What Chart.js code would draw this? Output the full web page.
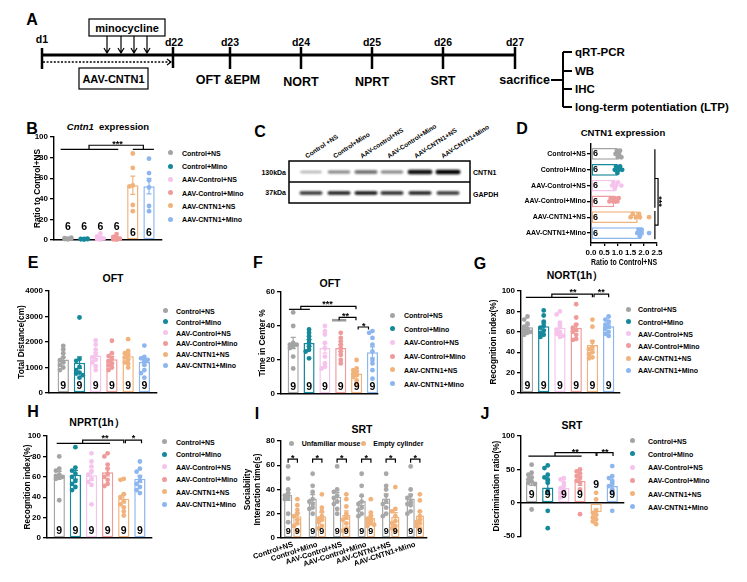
<!DOCTYPE html>
<html>
<head>
<meta charset="utf-8">
<script src="https://cdn.jsdelivr.net/npm/chart.js@4.4.1/dist/chart.umd.min.js"></script>
<style>
  body { margin: 0; width: 747px; height: 582px; background: #fff; position: relative; overflow: hidden;
         font-family: "Liberation Sans", Arial, sans-serif; font-weight: bold; color: #000; }
  .t { position: absolute; white-space: nowrap; line-height: 1; }
  .dot { position: absolute; width: 5px; height: 5px; border-radius: 50%; }
  canvas { position: absolute; }
  svg { position: absolute; left: 0; top: 0; }
</style>
</head>
<body>
<svg width="747" height="582" font-family="Liberation Sans, Arial, sans-serif" font-weight="bold">
  <defs>
    <filter id="bl" x="-30%" y="-150%" width="160%" height="400%"><feGaussianBlur stdDeviation="0.9"/></filter>
  </defs>
  <!-- A: timeline -->
  <line x1="42" y1="55" x2="515" y2="55" stroke="#000" stroke-width="3"/>
  <g stroke="#000" stroke-width="2.5">
    <line x1="42" y1="48" x2="42" y2="69"/>
    <line x1="173" y1="47" x2="173" y2="68"/>
    <line x1="230" y1="47" x2="230" y2="69"/>
    <line x1="301" y1="47" x2="301" y2="69"/>
    <line x1="372" y1="47" x2="372" y2="69"/>
    <line x1="443" y1="47" x2="443" y2="69"/>
    <line x1="515" y1="47" x2="515" y2="69"/>
  </g>
  <g font-size="10.5" text-anchor="middle" dominant-baseline="central">
    <text x="42" y="39">d1</text>
    <text x="174" y="42">d22</text>
    <text x="230" y="42">d23</text>
    <text x="301" y="42">d24</text>
    <text x="372" y="42">d25</text>
    <text x="443" y="42">d26</text>
    <text x="515" y="42">d27</text>
  </g>
  <rect x="89" y="19" width="76" height="17" fill="#fff" stroke="#000" stroke-width="1.2"/>
  <text x="127" y="27.5" font-size="11" text-anchor="middle" dominant-baseline="central">minocycline</text>
  <g stroke="#000" stroke-width="1.2" fill="none">
    <path d="M107 36V53M104 48L107 53L110 48"/>
    <path d="M121 36V53M118 48L121 53L124 48"/>
    <path d="M134 36V53M131 48L134 53L137 48"/>
    <path d="M147 36V53M144 48L147 53L150 48"/>
    <line x1="43" y1="62" x2="171" y2="62" stroke-dasharray="2,1.6" stroke-width="1.4"/>
    <path d="M167 59L171 62L167 65"/>
  </g>
  <rect x="79" y="68" width="69" height="21" fill="#fff" stroke="#000" stroke-width="1.2"/>
  <text x="113.5" y="78.5" font-size="11" text-anchor="middle" dominant-baseline="central">AAV-CNTN1</text>
  <g font-size="12.5" text-anchor="middle" dominant-baseline="central">
    <text x="228" y="80">OFT &amp;EPM</text>
    <text x="301" y="82">NORT</text>
    <text x="372" y="82">NPRT</text>
    <text x="443" y="81">SRT</text>
    <text x="550" y="80" text-anchor="end">sacrifice</text>
  </g>
  <g stroke="#000" stroke-width="2" fill="none">
    <line x1="551" y1="80" x2="563" y2="80"/>
    <line x1="563" y1="52" x2="563" y2="107"/>
    <line x1="563" y1="52" x2="572" y2="52"/>
    <line x1="563" y1="71" x2="572" y2="71"/>
    <line x1="563" y1="89" x2="572" y2="89"/>
    <line x1="563" y1="107" x2="572" y2="107"/>
  </g>
  <g font-size="11.5" dominant-baseline="central">
    <text x="575" y="52">qRT-PCR</text>
    <text x="575" y="71">WB</text>
    <text x="575" y="89">IHC</text>
    <text x="575" y="107">long-term potentiation (LTP)</text>
  </g>
  <!-- C: blot frame -->
  <g id="blot"></g>
  <rect x="289" y="161" width="181" height="42" fill="none" stroke="#000" stroke-width="1.5"/>
  <line x1="289" y1="182" x2="470" y2="182" stroke="#000" stroke-width="1.5"/>
  <g font-size="7" dominant-baseline="central">
    <text x="286" y="172" text-anchor="end">130kDa</text>
    <text x="286" y="192" text-anchor="end">37kDa</text>
    <text x="473" y="172">CNTN1</text>
    <text x="473" y="194">GAPDH</text>
  </g>
</svg>
<script>
// ---- data ----
var groups = ["Control+NS", "Control+Mino", "AAV-Control+NS", "AAV-Control+Mino", "AAV-CNTN1+NS", "AAV-CNTN1+Mino"];
var blotLanes = ["Control +NS", "Control+Mino", "AAV-control+NS", "AAV-Control+Mino", "AAV-CNTN1+NS", "AAV-CNTN1+Mino"];
var cntn1Band = [0.3, 0.5, 0.6, 0.5, 0.95, 1.0];
var gapdhBand = [0.8, 0.9, 0.95, 0.85, 0.9, 0.8];

// B  Cntn1 mRNA
var bTicks = [0, 20, 40, 60, 80, 100];
var bMean = [1.3, 0.9, 2.5, 2.1, 53.2, 52.3];
var bSem  = [0.3, 0.2, 1.0, 0.9, 8.9, 7.6];
var bPts = [
  [0.6, 0.9, 1.1, 1.4, 1.8, 2.2],
  [0.5, 0.7, 0.8, 1.0, 1.1, 1.3],
  [0.4, 0.9, 1.5, 2.4, 3.5, 6.3],
  [0.3, 0.6, 1.2, 1.8, 3.0, 5.8],
  [84, 70, 53, 52, 34, 28],
  [79, 65, 58, 51, 33, 28]
];
var bN = [6, 6, 6, 6, 6, 6];

// D  CNTN1 protein
var dTicks = [0, 0.5, 1, 1.5, 2, 2.5];
var dMean = [1.0, 1.0, 0.92, 0.88, 1.77, 1.9];
var dSem  = [0.04, 0.05, 0.05, 0.05, 0.1, 0.07];
var dPts = [
  [0.93, 0.98, 1.02, 1.06, 1.1, 1.15],
  [0.9, 0.95, 1.0, 1.05, 1.1, 1.18],
  [0.8, 0.85, 0.9, 0.95, 1.02, 1.15],
  [0.7, 0.75, 0.85, 0.9, 1.0, 1.05],
  [1.5, 1.58, 1.7, 1.82, 1.85, 2.2],
  [1.75, 1.8, 1.85, 1.9, 1.92, 2.2]
];
var dN = [6, 6, 6, 6, 6, 6];

// E  OFT total distance
var eTicks = [0, 1000, 2000, 3000, 4000];
var eMean = [1310, 1190, 1470, 1320, 1440, 1220];
var eSem  = [95, 225, 120, 115, 115, 130];
var ePts = [
  [1850, 1720, 1560, 1400, 1290, 1200, 1100, 1000, 900],
  [2960, 1330, 1260, 1020, 900, 800, 760, 700, 600],
  [2060, 1900, 1700, 1500, 1400, 1300, 1200, 1050, 900],
  [2050, 1560, 1450, 1340, 1250, 1150, 1080, 1000, 900],
  [2110, 1650, 1560, 1480, 1400, 1300, 1200, 1150, 1000],
  [1860, 1420, 1360, 1300, 1250, 1100, 900, 780, 600]
];

// F  OFT time in center
var fTicks = [0, 20, 40, 60];
var fMean = [30, 30, 27, 27, 12, 24.5];
var fSem  = [3.3, 1.9, 3.0, 2.0, 1.4, 3.2];
var fPts = [
  [48, 40, 30, 29, 29, 28, 27, 22, 15],
  [38, 36, 34, 32, 30, 28, 26, 25, 21],
  [40, 37, 35, 30, 27, 22, 18, 16, 15],
  [36, 33, 31, 29, 27, 25, 23, 20, 18],
  [20, 15, 14, 13, 12, 11, 10, 8, 6],
  [37, 36, 33, 29, 25, 20, 18, 14, 9]
];

// G  NORT(1h)
var gTicks = [0, 20, 40, 60, 80, 100];
var gMean = [64.5, 65.5, 64, 64, 47, 65.5];
var gSem  = [2.0, 3.0, 3.0, 3.6, 4.6, 2.2];
var gPts = [
  [75, 72, 68, 65, 63, 61, 60, 59, 57],
  [81, 76, 70, 66, 64, 61, 59, 57, 55],
  [80, 77, 69, 65, 62, 59, 58, 56, 55],
  [87, 74, 67, 64, 62, 60, 57, 53, 52],
  [72, 65, 50, 45, 43, 40, 38, 35, 34],
  [75, 72, 70, 67, 65, 63, 60, 58, 56]
];

// H  NPRT(1h)
var hTicks = [0, 20, 40, 60, 80, 100];
var hMean = [61.5, 62, 61.5, 64.5, 38.5, 58];
var hSem  = [3.9, 4.3, 5.0, 3.7, 4.2, 3.5];
var hPts = [
  [80, 68, 66, 62, 61, 60, 59, 58, 37],
  [89, 69, 66, 63, 60, 56, 53, 50, 47],
  [83, 75, 70, 65, 62, 58, 55, 52, 33],
  [83, 80, 72, 68, 63, 60, 57, 53, 51],
  [58, 57, 43, 40, 36, 33, 30, 26, 22],
  [75, 68, 65, 60, 56, 53, 50, 47, 44]
];

// I  SRT sociability
var iTicks = [0, 20, 40, 60, 80];
var iSeries = ["Unfamiliar mouse", "Empty cylinder"];
var iMeanU = [35.5, 32.5, 34, 30.5, 32.5, 32.5];
var iSemU  = [4.5, 3.3, 3.7, 3.8, 3.9, 3.7];
var iMeanE = [18, 18, 19, 16.5, 17.5, 18.5];
var iSemE  = [2.8, 2.9, 3.4, 2.3, 3.5, 3.0];
var iPtsU = [
  [59, 49, 40, 37, 35, 33, 32, 20, 13],
  [53, 43, 38, 32, 30, 28, 25, 24, 20],
  [59, 40, 38, 35, 33, 30, 28, 24, 20],
  [53, 43, 35, 30, 28, 25, 23, 20, 18],
  [53, 43, 40, 35, 30, 28, 25, 20, 18],
  [59, 40, 35, 33, 30, 28, 27, 22, 20]
];
var iPtsE = [
  [32, 27, 23, 20, 18, 15, 12, 10, 6],
  [36, 25, 22, 18, 16, 15, 13, 10, 8],
  [36, 32, 26, 20, 17, 15, 12, 8, 6],
  [32, 21, 18, 16, 15, 13, 12, 11, 10],
  [42, 24, 22, 18, 14, 12, 10, 8, 6],
  [36, 31, 22, 18, 15, 13, 12, 10, 8]
];

// J  SRT discrimination
var jTicks = [-50, 0, 50, 100];
var jMean = [32, 23, 22, 33, -14, 25];
var jSem  = [6, 10, 3.5, 7, 5, 6];
var jPts = [
  [57, 45, 42, 38, 35, 32, 30, 28, -10],
  [56, 52, 42, 38, 35, 30, 18, -12, -38],
  [37, 35, 30, 25, 22, 18, 15, 12, 8],
  [50, 47, 44, 40, 37, 33, 30, 20, -17],
  [15, 5, -12, -15, -18, -22, -25, -28, -32],
  [55, 40, 37, 33, 28, 25, 20, 15, -12]
];
var n9 = [9, 9, 9, 9, 9, 9];

// ---- styles ----
var FONT = '"Liberation Sans", Arial, sans-serif';
var colors = ["#a4a4a4", "#15899b", "#f5c4ec", "#ef9b9b", "#f1b37b", "#8db6ef"];
var grayI = "#a8a8a8", orangeI = "#f1b37b";
function rep(c) { return [c, c, c, c, c, c]; }

// ---- html text helpers ----
function txt(html, x, y, size, align, rot, origin) {
  var d = document.createElement("div");
  d.className = "t";
  d.innerHTML = html;
  d.style.fontSize = size + "px";
  d.style.left = x + "px";
  d.style.top = y + "px";
  var tx = align === "left" ? "0" : align === "right" ? "-100%" : "-50%";
  d.style.transform = "translate(" + tx + ",-50%)" + (rot ? " rotate(" + rot + "deg)" : "");
  if (origin) d.style.transformOrigin = origin;
  document.body.appendChild(d);
}
function legend(labels, cols, dotX, textX, y0, dy, size) {
  labels.forEach(function(l, i) {
    var y = y0 + i * dy;
    var d = document.createElement("div");
    d.className = "dot";
    d.style.background = cols[i];
    d.style.left = (dotX - 2.5) + "px";
    d.style.top = (y - 2.5) + "px";
    document.body.appendChild(d);
    txt(l, textX, y, size, "left");
  });
}

// panel letters
[["A", 32, 20], ["B", 32, 129], ["C", 260, 132], ["D", 522, 129], ["E", 33, 263],
 ["F", 258, 263], ["G", 480, 264], ["H", 33, 412], ["I", 257, 414], ["J", 485, 414]]
  .forEach(function(a) { txt(a[0], a[1], a[2], 16); });

// titles
txt("<i>Cntn1</i>&nbsp; expression", 108, 127, 9.5);
txt("CNTN1 expression", 623, 133, 9.5);
txt("OFT", 113, 278, 10.5);
txt("OFT", 330, 283, 10.5);
txt("NORT(1h\uff09", 575, 275, 10.5);
txt("NPRT(1h\uff09", 97, 422, 10.5);
txt("SRT", 362, 429, 10.5);
txt("SRT", 572, 425, 10.5);

// legends
legend(groups, colors, 170, 182, 152.7, 13.3, 7);
legend(groups, colors, 165, 176, 310.7, 10.9, 7);
legend(groups, colors, 392.7, 404, 315, 13.7, 7);
legend(groups, colors, 628, 638, 309.3, 12.2, 7);
legend(groups, colors, 164, 176, 441.7, 12.5, 7);
legend(groups, colors, 632.7, 648, 440.7, 13.2, 7);
legend([iSeries[0]], [grayI], 291.7, 301.7, 443, 0, 7);
legend([iSeries[1]], [orangeI], 363.3, 373.3, 443, 0, 7);

// blot
(function() {
  var g = document.getElementById("blot");
  var bx = [311, 339, 366, 392, 420, 448];
  function band(x, y, w, h, op) {
    var r = document.createElementNS("http://www.w3.org/2000/svg", "rect");
    r.setAttribute("x", x - w / 2); r.setAttribute("y", y - h / 2);
    r.setAttribute("width", w); r.setAttribute("height", h);
    r.setAttribute("rx", h / 2); r.setAttribute("fill", "#000");
    r.setAttribute("opacity", op); r.setAttribute("filter", "url(#bl)");
    g.appendChild(r);
  }
  cntn1Band.forEach(function(v, i) { band(bx[i], 172, 20 + 5 * v, 1.5 + 3 * v, v); });
  gapdhBand.forEach(function(v, i) { band(bx[i], 193, 23, 3.5, v); });
  var sx = [306, 334, 361, 388, 415, 442];
  blotLanes.forEach(function(l, i) { txt(l, sx[i], 157, 6.5, "left", -33, "left center"); });
})();

// ---- chart building ----
function swarm(vals, pxV, pxI, d, maxOff) {
  var placed = [];
  return vals.map(function(v) {
    var yp = v * pxV, best = 0, bestGap = -1;
    for (var k = 0; k < 9; k++) {
      var off = (k % 2 ? -1 : 1) * Math.ceil(k / 2) * d;
      if (Math.abs(off) > maxOff) break;
      var gap = placed.reduce(function(m, q) { return Math.min(m, Math.hypot(q[0] - off, q[1] - yp)); }, 99);
      if (gap >= d) { best = off; bestGap = gap; break; }
      if (gap > bestGap) { bestGap = gap; best = off; }
    }
    placed.push([best, yp]);
    return best / pxI;
  });
}

function prismPlugin(p) {
  return {
    id: "prism" + p.id,
    afterDatasetsDraw: function(chart) {
      var ctx = chart.ctx, xs = chart.scales.x, ys = chart.scales.y, horiz = !!p.horiz;
      function P(i, v) {
        return horiz ? [xs.getPixelForValue(v), ys.getPixelForValue(i)] : [xs.getPixelForValue(i), ys.getPixelForValue(v)];
      }
      ctx.save();
      ctx.lineWidth = 1.2;
      // error bars (mean ± SEM)
      p.series.forEach(function(s, si) {
        chart.getDatasetMeta(si).data.forEach(function(bar, i) {
          var lo = s.mean[i] - s.sem[i], hi = s.mean[i] + s.sem[i], c = 2.5;
          ctx.strokeStyle = s.colors[i];
          ctx.beginPath();
          if (horiz) {
            var a = xs.getPixelForValue(lo), b = xs.getPixelForValue(hi), y = bar.y;
            ctx.moveTo(a, y); ctx.lineTo(b, y);
            ctx.moveTo(a, y - c); ctx.lineTo(a, y + c);
            ctx.moveTo(b, y - c); ctx.lineTo(b, y + c);
          } else {
            var a2 = ys.getPixelForValue(lo), b2 = ys.getPixelForValue(hi), x = bar.x;
            ctx.moveTo(x, a2); ctx.lineTo(x, b2);
            ctx.moveTo(x - c, a2); ctx.lineTo(x + c, a2);
            ctx.moveTo(x - c, b2); ctx.lineTo(x + c, b2);
          }
          ctx.stroke();
        });
      });
      // n per group
      ctx.fillStyle = "#000";
      ctx.font = "bold " + p.nSize + "px " + FONT;
      ctx.textAlign = "center";
      ctx.textBaseline = "middle";
      p.series.forEach(function(s, si) {
        chart.getDatasetMeta(si).data.forEach(function(bar, i) {
          var off = Array.isArray(p.nOff) ? p.nOff[i] : p.nOff;
          if (horiz) ctx.fillText(String(s.n[i]), xs.getPixelForValue(0) + off, bar.y);
          else ctx.fillText(String(s.n[i]), bar.x, ys.getPixelForValue(0) - off);
        });
      });
      // significance marks
      (p.sig || []).forEach(function(g) {
        var a, b, c, d;
        ctx.strokeStyle = "#000";
        ctx.lineWidth = 1.2;
        if (g[0] === "line") {
          if (g[4]) { ctx.strokeStyle = g[4]; ctx.lineWidth = 2.6; }
          a = P(g[1], g[3]); b = P(g[2], g[3]);
          ctx.beginPath(); ctx.moveTo(a[0], a[1]); ctx.lineTo(b[0], b[1]); ctx.stroke();
        } else if (g[0] === "br") {
          a = P(g[1], g[4]); b = P(g[1], g[3]); c = P(g[2], g[3]); d = P(g[2], g[4]);
          ctx.beginPath(); ctx.moveTo(a[0], a[1]); ctx.lineTo(b[0], b[1]); ctx.lineTo(c[0], c[1]); ctx.lineTo(d[0], d[1]); ctx.stroke();
        } else if (g[0] === "txt") {
          a = P(g[1], g[2]);
          ctx.save();
          ctx.translate(a[0], a[1]);
          if (g[4]) ctx.rotate(g[4] * Math.PI / 180);
          ctx.font = "bold 9px " + FONT;
          ctx.textBaseline = "alphabetic";
          ctx.fillText(g[3], 0, 9 * 0.55);
          ctx.restore();
        }
      });
      ctx.restore();
    }
  };
}

function axis() {
  return {
    type: "linear",
    offset: false,
    border: { display: true, color: "#000", width: 1.4 },
    grid: { display: true, offset: false, drawOnChartArea: false, drawTicks: true, tickLength: 4, color: "#000", lineWidth: 1.3 },
    ticks: { color: "#000", font: { family: FONT, size: 8, weight: "bold" }, padding: 2,
             autoSkip: false, minRotation: 0, maxRotation: 0 }
  };
}

function makeChart(p) {
  var horiz = !!p.horiz;
  var left = p.left !== undefined ? p.left : Math.round(p.labX - 5);
  var top = p.plot[1] - p.padT;
  var w = Math.round(p.plot[2] + p.padR - left);
  var h = Math.round(p.plot[3] + p.xH + (p.padB || 0) - top);
  var yW = p.plot[0] - left;
  var cv = document.createElement("canvas");
  cv.width = w; cv.height = h;
  cv.style.left = left + "px"; cv.style.top = top + "px";
  cv.style.width = w + "px"; cv.style.height = h + "px";
  document.body.appendChild(cv);

  var pw = p.plot[2] - p.plot[0], ph = p.plot[3] - p.plot[1];
  var pxI = (horiz ? ph : pw) / (p.iMax - p.iMin);
  var pxV = (horiz ? pw : ph) / (p.vMax - p.vMin);

  var datasets = [], pts = [], ptCol = [];
  p.series.forEach(function(s) {
    datasets.push({
      type: "bar",
      data: s.mean.map(function(m, i) { return horiz ? { x: m, y: i } : { x: i, y: m }; }),
      backgroundColor: "#fff", borderColor: s.colors, borderWidth: 1.5, borderSkipped: false,
      barPercentage: p.barPct, categoryPercentage: p.catPct, order: 2
    });
    s.pts.forEach(function(list, i) {
      var offs = swarm(list, pxV, pxI, 3.3, p.maxOff || 4);
      list.forEach(function(v, k) {
        var ii = i + (s.shift || 0) + offs[k];
        pts.push(horiz ? { x: v, y: ii } : { x: ii, y: v });
        ptCol.push(s.colors[i]);
      });
    });
  });
  datasets.push({
    type: "scatter", data: pts, pointRadius: 2.4, pointBorderWidth: 0,
    pointBackgroundColor: ptCol, pointHoverRadius: 0, order: 1, clip: false
  });

  var iAx = axis(), vAx = axis();
  iAx.min = p.iMin; iAx.max = p.iMax;
  vAx.min = p.vMin; vAx.max = p.vMax;
  iAx.afterBuildTicks = function(s) { s.ticks = groups.map(function(g, i) { return { value: i }; }); };
  vAx.afterBuildTicks = function(s) { s.ticks = p.vTicks.map(function(v) { return { value: v }; }); };
  vAx.ticks.callback = function(v) { return String(v); };
  vAx.title = { display: true, text: p.vTitle, color: "#000", padding: 0,
                font: { family: FONT, size: 8.3, weight: "bold", lineHeight: 1.2 } };
  if (p.iLabels) {
    iAx.ticks.callback = function(v) { return p.iLabels[v]; };
  } else {
    iAx.ticks.display = false;
    iAx.grid.display = false;
  }

  var scales;
  if (horiz) {
    iAx.reverse = true;
    iAx.ticks.font.size = 7;
    iAx.ticks.padding = 1;
    iAx.afterFit = function(s) { s.width = yW; };
    vAx.grid.tickLength = 3;
    vAx.ticks.callback = function(v) { return v.toFixed(1); };
    vAx.afterFit = function(s) { s.height = p.xH; };
    scales = { x: vAx, y: iAx };
  } else {
    iAx.position = p.zeroAxis ? { y: 0 } : "bottom";
    iAx.afterFit = function(s) { s.height = p.xH; };
    if (p.iLabels) {
      iAx.ticks.minRotation = 18; iAx.ticks.maxRotation = 18;
      iAx.ticks.font.size = 7.5;
      iAx.grid.display = false; iAx.grid.drawTicks = false;
    }
    vAx.afterFit = function(s) { s.width = yW; };
    scales = { x: iAx, y: vAx };
  }

  return new Chart(cv, {
    type: "bar",
    data: { datasets: datasets },
    options: {
      indexAxis: horiz ? "y" : "x",
      responsive: false, animation: false, devicePixelRatio: 1, events: [],
      layout: { padding: { top: p.padT, right: p.padR, bottom: p.padB || 0, left: 0 } },
      plugins: { legend: { display: false }, tooltip: { enabled: false } },
      scales: scales
    },
    plugins: [prismPlugin(p)]
  });
}

function six(mean, sem, pts, n) { return [{ mean: mean, sem: sem, pts: pts, n: n, colors: colors }]; }

// B
makeChart({ id: "B", labX: 38, plot: [54, 137, 162, 240], padT: 12, padR: 4, xH: 8,
  iMin: -0.86, iMax: 5.8, vMin: 0, vMax: 100, vTicks: bTicks, vTitle: "Ratio to Control+NS",
  series: six(bMean, bSem, bPts, bN), barPct: 0.7, catPct: 1,
  nOff: [12.7, 12.7, 12.7, 12.7, 7.3, 7.3], nSize: 10.5,
  sig: [["line", -0.45, 3.1, 88], ["line", 4.0, 5.3, 88], ["br", 1.3, 4.65, 92, 88], ["txt", 3.05, 95, "***"]] });

// D
makeChart({ id: "D", horiz: true, left: 515, plot: [591, 144, 657, 243], padT: 10, padR: 15, xH: 25,
  iMin: -0.63, iMax: 5.63, vMin: 0, vMax: 2.5, vTicks: dTicks, vTitle: "Ratio to Control+NS",
  iLabels: groups, series: six(dMean, dSem, dPts, dN), barPct: 0.74, catPct: 1,
  nOff: 4.5, nSize: 9, maxOff: 3.5,
  sig: [["line", -0.3, 3.4, 2.42], ["line", 3.6, 5.4, 2.42], ["br", 1.55, 4.5, 2.54, 2.42], ["txt", 3.0, 2.66, "***", 90]] });

// E
makeChart({ id: "E", labX: 21.5, plot: [49, 291, 157, 393], padT: 12, padR: 4, xH: 8,
  iMin: -0.88, iMax: 5.78, vMin: 0, vMax: 4000, vTicks: eTicks, vTitle: "Total Distance(cm)",
  series: six(eMean, eSem, ePts, n9), barPct: 0.7, catPct: 1, nOff: 7, nSize: 10.5, sig: [] });

// F
makeChart({ id: "F", labX: 263, plot: [281, 292, 378, 394], padT: 12, padR: 4, xH: 8,
  iMin: -0.77, iMax: 5.35, vMin: 0, vMax: 60, vTicks: fTicks, vTitle: "Time in Center %",
  series: six(fMean, fSem, fPts, n9), barPct: 0.7, catPct: 1, nOff: 7.3, nSize: 10.5,
  sig: [["line", -0.27, 1.05, 49.8], ["br", 0.48, 3.96, 51.6, 49.8], ["txt", 2.17, 54, "***"],
        ["line", 2.45, 3.35, 43.4, "#9a9a9a"], ["br", 2.9, 3.96, 45.1, 43.4], ["txt", 3.3, 47.3, "**"],
        ["br", 4.1, 4.75, 39.4, 38], ["txt", 4.45, 41.3, "*"]] });

// G
makeChart({ id: "G", labX: 494, plot: [521, 291, 620, 393], padT: 12, padR: 4, xH: 8,
  iMin: -0.4, iMax: 5.7, vMin: 0, vMax: 100, vTicks: gTicks, vTitle: "Recognition index(%)",
  series: six(gMean, gSem, gPts, n9), barPct: 0.7, catPct: 1, nOff: 7, nSize: 10.5,
  sig: [["line", -0.1, 3.1, 93.8], ["br", 1.5, 4.0, 97, 93.8], ["txt", 2.8, 100.5, "**"],
        ["br", 4.1, 5.0, 97, 93.8], ["txt", 4.55, 100.5, "**"]] });

// H
makeChart({ id: "H", labX: 28, plot: [47, 436, 152, 538], padT: 12, padR: 4, xH: 8,
  iMin: -0.76, iMax: 5.75, vMin: 0, vMax: 100, vTicks: hTicks, vTitle: "Recognition index(%)",
  series: six(hMean, hSem, hPts, n9), barPct: 0.7, catPct: 1, nOff: 7, nSize: 10.5,
  sig: [["line", -0.16, 3.15, 92.8], ["br", 1.45, 4.0, 96, 92.8], ["txt", 2.83, 99.5, "**"],
        ["br", 4.1, 5.1, 96, 92.8], ["txt", 4.6, 99.5, "*"]] });

// I
(function() {
  var sig = [];
  groups.forEach(function(g, i) {
    sig.push(["br", i - 0.19, i + 0.19, 65, 62]);
    sig.push(["txt", i, 67.8, "*"]);
  });
  makeChart({ id: "I", labX: 248, plot: [281, 441, 427, 538], padT: 12, padR: 4, xH: 40,
    iMin: -0.48, iMax: 5.48, vMin: 0, vMax: 80, vTicks: iTicks, vTitle: ["Sociability", "Interaction time(s)"],
    iLabels: groups,
    series: [{ mean: iMeanU, sem: iSemU, pts: iPtsU, n: n9, colors: rep(grayI), shift: -0.1875 },
             { mean: iMeanE, sem: iSemE, pts: iPtsE, n: n9, colors: rep(orangeI), shift: 0.1875 }],
    barPct: 0.9, catPct: 0.75, nOff: 6.3, nSize: 9, maxOff: 3.3, sig: sig });
})();

// J
makeChart({ id: "J", labX: 497, plot: [521, 436, 624, 537], padT: 12, padR: 4, xH: 0, padB: 6, zeroAxis: true,
  iMin: -0.66, iMax: 5.73, vMin: -50, vMax: 100, vTicks: jTicks, vTitle: "Discrimination ratio(%)",
  series: six(jMean, jSem, jPts, n9), barPct: 0.7, catPct: 1, nOff: [8, 8, 8, 8, 18, 8], nSize: 10.5,
  sig: [["line", -0.2, 3.1, 70], ["br", 1.45, 4.0, 75, 70], ["txt", 2.7, 79, "**"],
        ["br", 4.05, 5.05, 75, 70], ["txt", 4.55, 79, "**"]] });
</script>
</body>
</html>
